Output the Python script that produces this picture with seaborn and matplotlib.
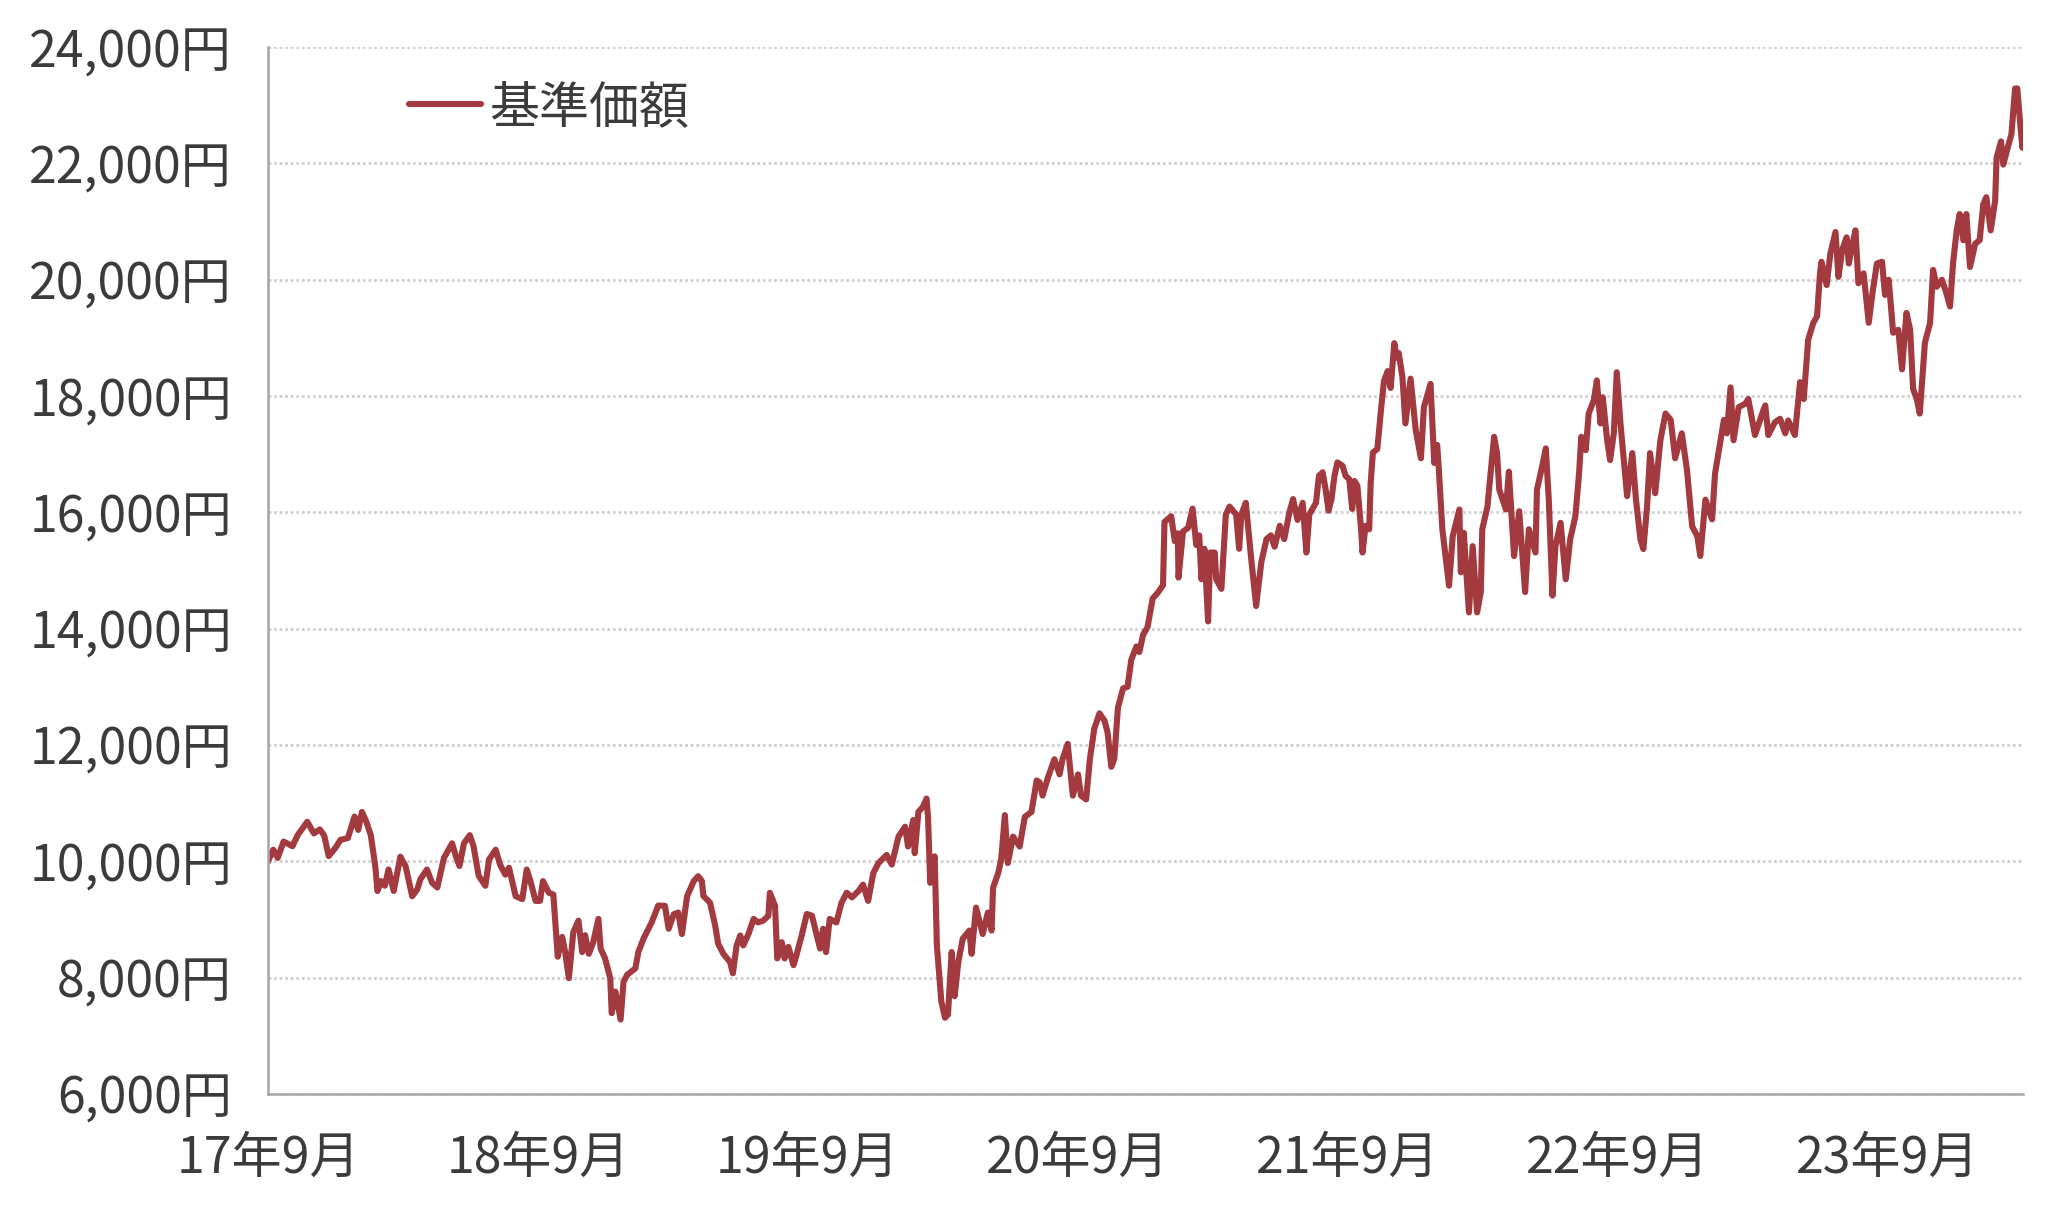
import matplotlib
matplotlib.use("Agg")
import matplotlib.pyplot as plt
import matplotlib.ticker as ticker
import matplotlib.dates as mdates
import pandas as pd
import seaborn as sns

# fund NAV (基準価額)
dates = [
    "2017-09-01", "2017-09-08", "2017-09-14", "2017-09-22", "2017-10-04", "2017-10-11", "2017-10-24",
    "2017-11-02", "2017-11-10", "2017-11-16", "2017-11-22", "2017-12-01", "2017-12-08", "2017-12-18",
    "2017-12-27", "2018-01-01", "2018-01-06", "2018-01-12", "2018-01-18", "2018-01-24", "2018-01-27",
    "2018-02-01", "2018-02-06", "2018-02-11", "2018-02-18", "2018-02-27", "2018-03-06", "2018-03-15",
    "2018-03-22", "2018-03-26", "2018-04-04", "2018-04-11", "2018-04-18", "2018-04-27", "2018-05-08",
    "2018-05-13", "2018-05-18", "2018-05-24", "2018-06-01", "2018-06-06", "2018-06-13", "2018-06-22",
    "2018-06-27", "2018-07-06", "2018-07-12", "2018-07-19", "2018-07-24", "2018-08-02", "2018-08-11",
    "2018-08-17", "2018-08-22", "2018-08-29", "2018-09-04", "2018-09-08", "2018-09-16", "2018-09-22",
    "2018-09-28", "2018-10-04", "2018-10-08", "2018-10-13", "2018-10-19", "2018-10-26", "2018-10-31",
    "2018-11-04", "2018-11-09", "2018-11-15", "2018-11-22", "2018-11-25", "2018-12-01", "2018-12-08",
    "2018-12-10", "2018-12-15", "2018-12-22", "2018-12-26", "2018-12-31", "2019-01-11", "2019-01-15",
    "2019-01-22", "2019-02-02", "2019-02-11", "2019-02-20", "2019-02-25", "2019-03-04", "2019-03-10",
    "2019-03-15", "2019-03-22", "2019-03-31", "2019-04-06", "2019-04-11", "2019-04-13", "2019-04-22",
    "2019-04-29", "2019-05-03", "2019-05-10", "2019-05-19", "2019-05-23", "2019-05-28", "2019-06-02",
    "2019-06-06", "2019-06-13", "2019-06-20", "2019-06-26", "2019-07-03", "2019-07-10", "2019-07-12",
    "2019-07-19", "2019-07-22", "2019-07-28", "2019-08-01", "2019-08-06", "2019-08-13", "2019-08-17",
    "2019-08-24", "2019-08-31", "2019-09-07", "2019-09-13", "2019-09-18", "2019-09-22", "2019-09-26",
    "2019-10-01", "2019-10-10", "2019-10-17", "2019-10-24", "2019-10-31", "2019-11-09", "2019-11-15",
    "2019-11-22", "2019-11-29", "2019-12-06", "2019-12-17", "2019-12-24", "2020-01-02", "2020-01-11",
    "2020-01-15", "2020-01-22", "2020-01-24", "2020-01-29", "2020-02-04", "2020-02-09", "2020-02-11",
    "2020-02-14", "2020-02-20", "2020-02-23", "2020-02-29", "2020-03-05", "2020-03-09", "2020-03-14",
    "2020-03-18", "2020-03-23", "2020-03-29", "2020-04-07", "2020-04-10", "2020-04-16", "2020-04-25",
    "2020-05-02", "2020-05-07", "2020-05-09", "2020-05-16", "2020-05-20", "2020-05-25", "2020-05-29",
    "2020-06-05", "2020-06-14", "2020-06-21", "2020-06-30", "2020-07-07", "2020-07-11", "2020-07-15",
    "2020-07-22", "2020-07-31", "2020-08-07", "2020-08-11", "2020-08-18", "2020-08-25", "2020-09-01",
    "2020-09-05", "2020-09-12", "2020-09-17", "2020-09-23", "2020-09-30", "2020-10-07", "2020-10-11",
    "2020-10-16", "2020-10-20", "2020-10-25", "2020-11-01", "2020-11-07", "2020-11-12", "2020-11-19",
    "2020-11-23", "2020-11-28", "2020-12-04", "2020-12-11", "2020-12-18", "2020-12-25", "2020-12-27",
    "2021-01-05", "2021-01-10", "2021-01-14", "2021-01-15", "2021-01-21", "2021-01-28", "2021-02-03",
    "2021-02-08", "2021-02-12", "2021-02-15", "2021-02-19", "2021-02-24", "2021-02-27", "2021-03-05",
    "2021-03-07", "2021-03-14", "2021-03-20", "2021-03-25", "2021-04-03", "2021-04-07", "2021-04-10",
    "2021-04-16", "2021-04-23", "2021-04-30", "2021-05-07", "2021-05-14", "2021-05-20", "2021-05-25",
    "2021-06-01", "2021-06-07", "2021-06-14", "2021-06-19", "2021-06-25", "2021-07-02", "2021-07-07",
    "2021-07-11", "2021-07-20", "2021-07-24", "2021-07-29", "2021-08-02", "2021-08-06", "2021-08-10",
    "2021-08-14", "2021-08-18", "2021-08-25", "2021-08-29", "2021-09-03", "2021-09-07", "2021-09-10",
    "2021-09-14", "2021-09-19", "2021-09-21", "2021-09-25", "2021-09-30", "2021-10-02", "2021-10-05",
    "2021-10-11", "2021-10-16", "2021-10-20", "2021-10-25", "2021-10-29", "2021-11-03", "2021-11-06",
    "2021-11-09", "2021-11-14", "2021-11-18", "2021-11-25", "2021-12-02", "2021-12-09", "2021-12-13",
    "2021-12-22", "2021-12-27", "2021-12-31", "2022-01-02", "2022-01-07", "2022-01-16", "2022-01-21",
    "2022-01-30", "2022-02-01", "2022-02-05", "2022-02-12", "2022-02-17", "2022-02-23", "2022-02-28",
    "2022-03-02", "2022-03-09", "2022-03-18", "2022-03-22", "2022-03-25", "2022-04-03", "2022-04-07",
    "2022-04-14", "2022-04-21", "2022-04-29", "2022-05-04", "2022-05-13", "2022-05-15", "2022-05-22",
    "2022-05-27", "2022-05-31", "2022-06-05", "2022-06-09", "2022-06-16", "2022-06-23", "2022-06-29",
    "2022-07-06", "2022-07-11", "2022-07-14", "2022-07-20", "2022-07-24", "2022-07-31", "2022-08-04",
    "2022-08-09", "2022-08-12", "2022-08-18", "2022-08-22", "2022-08-27", "2022-08-31", "2022-09-05",
    "2022-09-14", "2022-09-21", "2022-09-26", "2022-10-02", "2022-10-06", "2022-10-11", "2022-10-15",
    "2022-10-22", "2022-10-29", "2022-11-05", "2022-11-12", "2022-11-18", "2022-11-27", "2022-12-04",
    "2022-12-11", "2022-12-18", "2022-12-22", "2022-12-29", "2023-01-07", "2023-01-11", "2023-01-23",
    "2023-01-27", "2023-02-01", "2023-02-05", "2023-02-12", "2023-02-21", "2023-02-25", "2023-03-06",
    "2023-03-18", "2023-03-20", "2023-03-24", "2023-04-02", "2023-04-09", "2023-04-16", "2023-04-20",
    "2023-04-29", "2023-05-06", "2023-05-11", "2023-05-17", "2023-05-24", "2023-05-29", "2023-06-02",
    "2023-06-04", "2023-06-11", "2023-06-16", "2023-06-23", "2023-06-27", "2023-07-02", "2023-07-08",
    "2023-07-11", "2023-07-15", "2023-07-20", "2023-07-24", "2023-07-31", "2023-08-07", "2023-08-12",
    "2023-08-18", "2023-08-25", "2023-08-29", "2023-09-03", "2023-09-09", "2023-09-16", "2023-09-21",
    "2023-09-27", "2023-10-02", "2023-10-06", "2023-10-11", "2023-10-15", "2023-10-22", "2023-10-29",
    "2023-11-02", "2023-11-07", "2023-11-14", "2023-11-20", "2023-11-25", "2023-11-29", "2023-12-04",
    "2023-12-08", "2023-12-13", "2023-12-17", "2023-12-22", "2023-12-29", "2024-01-04", "2024-01-09",
    "2024-01-13", "2024-01-19", "2024-01-25", "2024-01-27", "2024-02-02", "2024-02-05", "2024-02-12",
    "2024-02-16", "2024-02-21", "2024-02-24", "2024-02-28", "2024-03-02", "2024-03-03",
]
nav = [
    10000, 10200, 10060, 10340, 10260, 10450, 10680,
    10480, 10550, 10440, 10090, 10230, 10370, 10400,
    10770, 10540, 10850, 10680, 10450, 9920, 9490,
    9660, 9580, 9860, 9490, 10080, 9920, 9400,
    9520, 9690, 9860, 9630, 9550, 10060, 10310,
    10090, 9920, 10310, 10450, 10260, 9750, 9580,
    10030, 10200, 9940, 9770, 9890, 9400, 9350,
    9860, 9660, 9320, 9320, 9660, 9460, 9430,
    8360, 8700, 8440, 7990, 8780, 8980, 8440,
    8730, 8410, 8610, 9010, 8500, 8330, 7990,
    7390, 7760, 7280, 7930, 8050, 8160, 8440,
    8670, 8950, 9240, 9235, 8840, 9090, 9120,
    8750, 9400, 9660, 9745, 9660, 9405, 9290,
    8895, 8585, 8410, 8270, 8075, 8555, 8725,
    8555, 8750, 9010, 8950, 8980, 9065, 9460,
    9235, 8330, 8610, 8330, 8530, 8215, 8385,
    8725, 9095, 9065, 8750, 8500, 8840, 8440,
    9010, 8950, 9290, 9460, 9380, 9490, 9600,
    9320, 9800, 9970, 10110, 9945, 10425, 10595,
    10255, 10710, 10140, 10850, 10935, 11080, 10765,
    9630, 10085, 8555, 7590, 7310, 7365, 8440,
    7680, 8270, 8670, 8810, 8410, 9205, 8750,
    9120, 8810, 9545, 9800, 10030, 10795, 9970,
    10425, 10255, 10765, 10850, 11390, 11360, 11130,
    11430, 11755, 11495, 11755, 12020, 11130, 11495,
    11130, 11065, 11755, 12280, 12545, 12415, 12215,
    11625, 11755, 12645, 12975, 13000, 13465, 13695,
    13600, 13895, 14025, 14520, 14620, 14750, 15835,
    15935, 15505, 15640, 14880, 15670, 15735, 16065,
    15440, 15605, 14850, 15375, 14125, 15310, 15310,
    14850, 14685, 15965, 16100, 15965, 15375, 15965,
    16165, 15245, 14390, 15145, 15540, 15605, 15410,
    15770, 15540, 16000, 16230, 15870, 16165, 15310,
    15965, 16165, 16630, 16690, 16400, 16030, 16230,
    16630, 16860, 16800, 16630, 16570, 16060, 16540,
    16460, 15710, 15310, 15770, 15710, 16510, 17030,
    17090, 17770, 18260, 18430, 18140, 18910, 18660,
    18740, 18320, 17530, 18300, 17410, 16930, 17810,
    18210, 16850, 17160, 16790, 15710, 14740, 15590,
    16050, 14970, 15650, 14280, 15420, 14280, 14630,
    15710, 16100, 17300, 17020, 16390, 16050, 16700,
    15250, 16020, 14630, 15710, 15310, 16390, 16790,
    17100, 16220, 14570, 15420, 15820, 14850, 15540,
    15935, 16670, 17300, 17070, 17700, 17930, 18270,
    17530, 17980, 17240, 16900, 17360, 18410, 17530,
    16280, 17020, 16220, 15540, 15370, 16100, 17020,
    16330, 17240, 17700, 17590, 16930, 17360, 16730,
    15760, 15590, 15250, 16220, 15880, 16670, 17590,
    17360, 18150, 17240, 17810, 17870, 17950, 17330,
    17780, 17840, 17330, 17550, 17610, 17360, 17580,
    17330, 18240, 17950, 18970, 19260, 19370, 20110,
    20310, 19910, 20450, 20820, 20050, 20510, 20730,
    20280, 20560, 20850, 19940, 20110, 19260, 19770,
    20280, 20310, 19740, 20000, 19090, 19140, 18460,
    19430, 19140, 18120, 17950, 17700, 18920, 19260,
    20170, 19880, 20000, 19770, 19540, 20280, 20850,
    21130, 20680, 21130, 20220, 20620, 20680, 21300,
    21420, 20850, 21360, 22100, 22380, 21980, 22320,
    22500, 23290, 23290, 22670, 22270, 22600,
]
y_ticks = [6000, 8000, 10000, 12000, 14000, 16000, 18000, 20000, 22000, 24000]
x_ticks = ["2017-09-01", "2018-09-01", "2019-09-01", "2020-09-01",
           "2021-09-01", "2022-09-01", "2023-09-01"]
series_label = "基準価額"

LINE_COLOR = "#a23a40"
TEXT_COLOR = "#3b3b3b"
AXIS_COLOR = "#a6a6a6"
GRID_COLOR = "#cfcfcf"

df = pd.DataFrame({"date": pd.to_datetime(dates), "nav": nav})

sns.set_style("white")
plt.rcParams["font.family"] = ["Noto Sans CJK JP", "DejaVu Sans"]

fig = plt.figure(figsize=(20.48, 12.06), dpi=100)
ax = fig.add_axes([0.1309, 0.0929, 0.857, 0.868])

sns.lineplot(data=df, x="date", y="nav", color=LINE_COLOR, linewidth=4.4,
             label=series_label, ax=ax)

# axes range and ticks
ax.set_ylim(y_ticks[0], y_ticks[-1])
ax.set_yticks(y_ticks)
ax.yaxis.set_major_formatter(ticker.FuncFormatter(lambda v, _: f"{v:,.0f}円"))
ax.set_xlim(pd.Timestamp(x_ticks[0]), df["date"].max())
ax.set_xticks(pd.to_datetime(x_ticks))
ax.xaxis.set_major_formatter(
    ticker.FuncFormatter(lambda v, _: f"{mdates.num2date(v).year % 100}年{mdates.num2date(v).month}月")
)
ax.set_xlabel("")
ax.set_ylabel("")

ax.grid(axis="y", color=GRID_COLOR, linestyle=(0, (1, 1)), linewidth=2)
ax.grid(axis="x", visible=False)
ax.set_axisbelow(True)

for side in ["top", "right"]:
    ax.spines[side].set_visible(False)
for side in ["left", "bottom"]:
    ax.spines[side].set_color(AXIS_COLOR)
    ax.spines[side].set_linewidth(1.8)

ax.tick_params(axis="y", length=6, width=1.8, color=AXIS_COLOR, pad=20,
               labelsize=36, labelcolor=TEXT_COLOR)
ax.tick_params(axis="x", length=8, width=1.8, color=AXIS_COLOR, pad=20,
               labelsize=36, labelcolor=TEXT_COLOR)

leg = ax.legend(loc="center left", bbox_to_anchor=(0.066, 0.942), frameon=False,
                fontsize=36, handlelength=1.45, handletextpad=0.15, borderpad=0,
                labelcolor=TEXT_COLOR)

fig.savefig("out.png", dpi=100, facecolor="white")
